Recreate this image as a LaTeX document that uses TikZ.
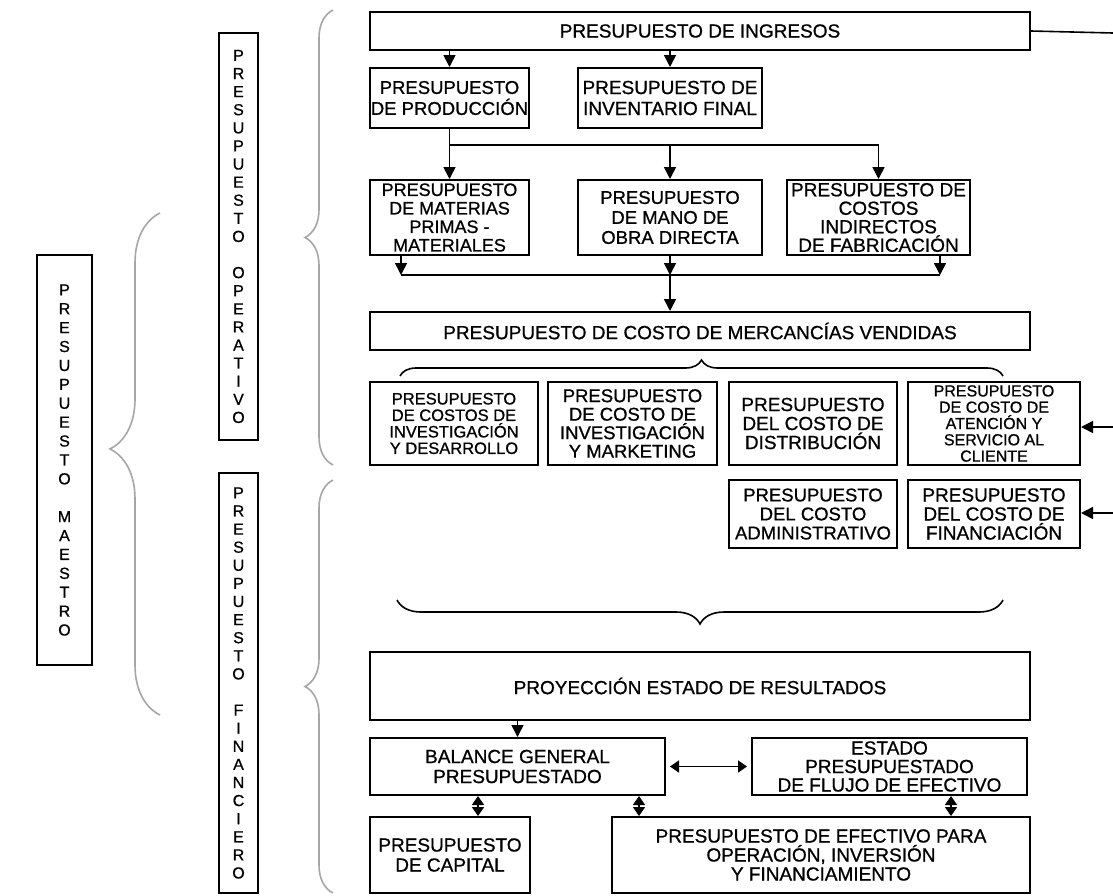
\documentclass[tikz,border=0pt]{standalone}
\usepackage{fontspec}
\setmainfont{Liberation Sans}[FakeBold=0.8]
\usetikzlibrary{arrows.meta,decorations.pathreplacing}
\tikzset{
  box/.style={draw, line width=2pt, align=center, inner sep=0pt, font=\fontsize{19}{21}\selectfont},
  vbox/.style={draw, line width=1.8pt, align=center, inner sep=0pt},
  arr/.style={line width=1.6pt, -{Triangle[length=12pt,width=12pt]}},
  dbl/.style={line width=1.6pt, {Triangle[length=9pt,width=12pt]}-{Triangle[length=9pt,width=12pt]}},
  ln/.style={line width=1.6pt},
  brc/.style={draw=gray!70, line width=1.6pt, decorate}
}
\begin{document}
\begin{tikzpicture}[x=1pt,y=-1pt]
\useasboundingbox[fill=white] (0,0) rectangle (1113,895);
% main boxes
\node[box, minimum width=660, minimum height=38] (ing) at (700,31) {PRESUPUESTO DE INGRESOS};
\node[box, minimum width=159, minimum height=60, font=\fontsize{18.5}{21}\selectfont] (prod) at (449.5,98) {PRESUPUESTO\\DE PRODUCCIÓN};
\node[box, minimum width=184, minimum height=60, font=\fontsize{19}{21}\selectfont] (inv) at (670,98) {PRESUPUESTO DE\\INVENTARIO FINAL};
\node[box, minimum width=159, minimum height=75, font=\fontsize{18}{18.5}\selectfont] (mat) at (449.5,217.5) {PRESUPUESTO\\DE MATERIAS\\PRIMAS -\\MATERIALES};
\node[box, minimum width=184, minimum height=75, font=\fontsize{18.5}{20}\selectfont] (mano) at (670,217.5) {PRESUPUESTO\\DE MANO DE\\OBRA DIRECTA};
\node[box, minimum width=183, minimum height=75, font=\fontsize{19}{18.5}\selectfont] (cif) at (878.5,217.5) {PRESUPUESTO DE\\COSTOS\\INDIRECTOS\\DE FABRICACIÓN};
\node[box, minimum width=660, minimum height=38] (cmv) at (700,331) {PRESUPUESTO DE COSTO DE MERCANCÍAS VENDIDAS};
\node[box, minimum width=168, minimum height=83, font=\fontsize{16.5}{16.5}\selectfont] (id) at (454,423.5) {PRESUPUESTO\\DE COSTOS DE\\INVESTIGACIÓN\\Y DESARROLLO};
\node[box, minimum width=169, minimum height=83, font=\fontsize{18.5}{18.5}\selectfont] (mk) at (632.5,423.5) {PRESUPUESTO\\DE COSTO DE\\INVESTIGACIÓN\\Y MARKETING};
\node[box, minimum width=168, minimum height=83, font=\fontsize{19}{19}\selectfont] (dist) at (813,423.5) {PRESUPUESTO\\DEL COSTO DE\\DISTRIBUCIÓN};
\node[box, minimum width=172, minimum height=83, font=\fontsize{16}{16.3}\selectfont] (aten) at (994,423.5) {PRESUPUESTO\\DE COSTO DE\\ATENCIÓN Y\\SERVICIO AL\\CLIENTE};
\node[box, minimum width=168, minimum height=68, font=\fontsize{18.5}{19}\selectfont] (adm) at (813,514) {PRESUPUESTO\\DEL COSTO\\ADMINISTRATIVO};
\node[box, minimum width=172, minimum height=68, font=\fontsize{19}{19}\selectfont] (fin) at (994,514) {PRESUPUESTO\\DEL COSTO DE\\FINANCIACIÓN};
\node[box, minimum width=660, minimum height=68] (res) at (700,686) {PROYECCIÓN ESTADO DE RESULTADOS};
\node[box, minimum width=295, minimum height=57, font=\fontsize{19}{20}\selectfont] (bal) at (517.5,766.5) {BALANCE GENERAL\\PRESUPUESTADO};
\node[box, minimum width=275, minimum height=57, font=\fontsize{19}{18.5}\selectfont] (efe) at (889.5,766.5) {ESTADO\\PRESUPUESTADO\\DE FLUJO DE EFECTIVO};
\node[box, minimum width=160, minimum height=76, font=\fontsize{19}{20}\selectfont] (cap) at (450,855) {PRESUPUESTO\\DE CAPITAL};
\node[box, minimum width=418, minimum height=76, font=\fontsize{19}{19}\selectfont] (pe) at (821,855) {PRESUPUESTO DE EFECTIVO PARA\\OPERACIÓN, INVERSIÓN\\Y FINANCIAMIENTO};
% vertical boxes
\node[vbox, minimum width=39, minimum height=407, font=\fontsize{16}{18.1}\selectfont] (op) at (238.5,236.5) {P\\R\\E\\S\\U\\P\\U\\E\\S\\T\\O\\~\\O\\P\\E\\R\\A\\T\\I\\V\\O};
\node[vbox, minimum width=39, minimum height=420, font=\fontsize{16}{18.1}\selectfont] (fi) at (238.5,683) {P\\R\\E\\S\\U\\P\\U\\E\\S\\T\\O\\~\\F\\I\\N\\A\\N\\C\\I\\E\\R\\O};
\node[vbox, minimum width=55, minimum height=410, font=\fontsize{16}{18.9}\selectfont] (ma) at (64.5,460) {P\\R\\E\\S\\U\\P\\U\\E\\S\\T\\O\\~\\M\\A\\E\\S\\T\\R\\O};
% braces
\draw[brc, decoration={brace, amplitude=50pt, aspect=0.53}] (160,715) -- (160,213);
\draw[brc, decoration={brace, amplitude=28pt}] (333,465) -- (333,10);
\draw[brc, decoration={brace, amplitude=28pt}] (333,893) -- (333,480);
\draw[draw=black, line width=1.6pt, decorate, decoration={brace, amplitude=16pt}] (400,376) -- (1003,376);
\draw[draw=black, line width=1.6pt, decorate, decoration={brace, amplitude=24pt}] (1003,600) -- (397,600);
% connectors top
\coordinate (r0) at (1113,33);
\draw[ln] (ing.east) -- (r0);
\draw[arr] (ing.south -| prod.north) -- (prod.north);
\draw[arr] (ing.south -| inv.north) -- (inv.north);
\coordinate (sp) at (449.5,145);
\draw[ln] (prod.south) -- (sp) -- (sp -| cif.north);
\draw[arr] (sp) -- (mat.north);
\draw[arr] (sp -| mano.north) -- (mano.north);
\draw[arr] (sp -| cif.north) -- (cif.north);
\coordinate (mg) at (670,275);
\coordinate (mgl) at (401,275);
\coordinate (mgr) at (940,275);
\draw[ln] (mgl) -- (mgr);
\draw[arr] (mat.south -| mgl) -- (mgl);
\draw[arr] (mano.south) -- (mg);
\draw[arr] (cif.south -| mgr) -- (mgr);
\draw[arr] (mg) -- (cmv.north -| mg);
% right side arrows
\coordinate (r1) at (1113,427);
\coordinate (r2) at (1113,513);
\draw[arr] (r1) -- (r1 -| aten.east);
\draw[arr] (r2) -- (r2 -| fin.east);
% bottom connectors
\draw[arr] (res.south -| bal.north) -- (bal.north);
\draw[dbl] ([xshift=4pt]bal.east) -- ([xshift=-4pt]efe.west);
\coordinate (b1) at (478,0);
\coordinate (b2) at (639,0);
\coordinate (b3) at (951,0);
\draw[dbl] (bal.south -| b1) -- (cap.north -| b1);
\draw[dbl] (bal.south -| b2) -- (pe.north -| b2);
\draw[dbl] (efe.south -| b3) -- (pe.north -| b3);
\end{tikzpicture}
\end{document}
